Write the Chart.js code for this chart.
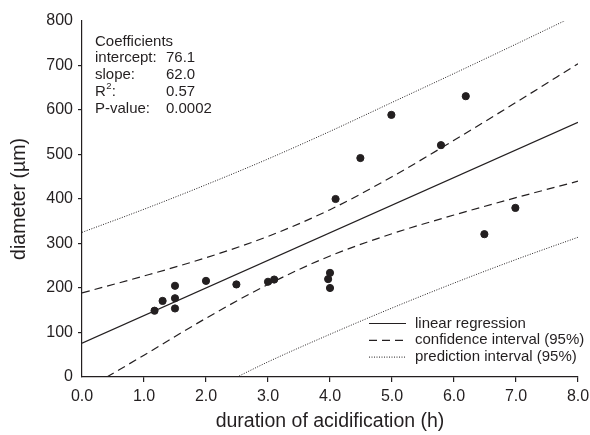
<!DOCTYPE html>
<html lang="en">
<head>
  <meta charset="UTF-8">
  <title>Diameter vs duration of acidification</title>
  <script src="https://cdn.jsdelivr.net/npm/chart.js"></script>
  <style>
    * { margin: 0; padding: 0; box-sizing: border-box; }
    body { background: #fff; }
    .wrap { position: relative; width: 590px; height: 435px; }
  </style>
</head>
<body>
  <div class="wrap"><canvas id="chart" width="590" height="435"></canvas></div>
  <script>
    // measured points
    var durationH = [1.17, 1.30, 1.50, 1.50, 1.50, 2.00, 2.49, 3.00, 3.10, 3.97, 4.00, 4.00, 4.09, 4.49, 4.99, 5.79, 6.19, 6.49, 6.99];
    var diameterUm = [149, 171, 205, 177, 154, 216, 208, 214, 219, 220, 234, 200, 400, 492, 589, 521, 631, 321, 380];

    // fitted line and bands
    var regX = [0, 8];
    var regY = [76.1, 572.1];
    var ciUpX = [0, 1, 2, 3, 4, 5, 6, 7, 8];
    var ciUpY = [189, 227, 268, 316, 376, 450, 532, 617, 704];
    var ciLoX = [0.4, 1, 2, 3, 4, 5, 6, 7, 8];
    var ciLoY = [0, 49, 132, 208, 272, 322, 364, 403, 440];
    var piUpX = [0, 1, 2, 3, 4, 5, 6, 7, 8];
    var piUpY = [325, 377, 432, 490, 552, 617, 682, 748, 815];
    var piLoX = [2.5, 3, 4, 5, 6, 7, 8];
    var piLoY = [0, 34, 96, 155, 211, 264, 314];

    var coefNames = ["intercept:", "slope:", "R", "P-value:"];
    var coefValues = ["76.1", "62.0", "0.57", "0.0002"];
    var legendLabels = ["linear regression", "confidence interval (95%)", "prediction interval (95%)"];

    var ink = "#231f20";
    var font = "'Liberation Sans', Arial, Helvetica, sans-serif";
    var dashCI = [8, 5];
    var dashPI = [1, 1.5];

    function pts(xs, ys) { return xs.map(function (x, i) { return { x: x, y: ys[i] }; }); }

    function lineSet(label, xs, ys, dash, width) {
      return {
        label: label, data: pts(xs, ys), showLine: true, borderColor: ink, borderWidth: width,
        borderDash: dash, pointRadius: 0, fill: false, cubicInterpolationMode: 'monotone'
      };
    }

    // text block + legend drawn in the plot
    var notes = {
      id: 'notes',
      afterDraw: function (chart) {
        var c = chart.ctx;
        c.save();
        c.fillStyle = ink;
        c.textBaseline = 'middle';
        c.font = "15px " + font;
        c.fillText("Coefficients", 95, 41.5);
        for (var i = 0; i < coefNames.length; i++) {
          var y = 58.3 + i * 16.7;
          c.font = "15px " + font;
          if (coefNames[i] === "R") {
            c.fillText("R", 95, y);
            var w = c.measureText("R").width;
            c.font = "9.5px " + font;
            c.fillText("2", 95 + w + 0.5, y - 5.5);
            c.font = "15px " + font;
            c.fillText(":", 95 + w + 6, y);
          } else {
            c.fillText(coefNames[i], 95, y);
          }
          c.fillText(coefValues[i], 166, y);
        }

        var dashes = [[], dashCI, dashPI];
        var widths = [1.2, 1.2, 1];
        c.font = "15px " + font;
        for (var j = 0; j < legendLabels.length; j++) {
          var ly = 323.5 + j * 16.8;
          c.beginPath();
          c.setLineDash(dashes[j]);
          c.lineWidth = widths[j];
          c.strokeStyle = ink;
          c.moveTo(369, ly);
          c.lineTo(406, ly);
          c.stroke();
          c.setLineDash([]);
          c.fillText(legendLabels[j], 415, ly);
        }
        c.restore();
      }
    };

    function edgeTick(ctx) {
      return (ctx.tick && (ctx.tick.value === 0 || ctx.tick.value === 800)) ? 'rgba(0,0,0,0)' : ink;
    }

    new Chart(document.getElementById("chart"), {
      type: 'scatter',
      data: {
        datasets: [
          {
            label: "data", data: pts(durationH, diameterUm), backgroundColor: ink, borderColor: ink,
            pointRadius: 3.6, pointHoverRadius: 3.6, showLine: false
          },
          lineSet(legendLabels[0], regX, regY, [], 1.2),
          lineSet("ci upper", ciUpX, ciUpY, dashCI, 1.2),
          lineSet("ci lower", ciLoX, ciLoY, dashCI, 1.2),
          lineSet("pi upper", piUpX, piUpY, dashPI, 1),
          lineSet("pi lower", piLoX, piLoY, dashPI, 1)
        ]
      },
      options: {
        responsive: false,
        animation: false,
        devicePixelRatio: 1,
        layout: { padding: { left: 0, right: 12, top: 21, bottom: 0 } },
        plugins: { legend: { display: false }, tooltip: { enabled: false } },
        scales: {
          x: {
            type: 'linear', min: 0, max: 8,
            ticks: {
              stepSize: 1, color: ink, padding: 5, maxRotation: 0,
              font: { family: font, size: 16 },
              callback: function (v) { return v.toFixed(1); }
            },
            grid: {
              drawOnChartArea: false, drawTicks: true, tickLength: 5, lineWidth: 1.2,
              color: function (ctx) { return ctx.index === 0 ? 'rgba(0,0,0,0)' : ink; }
            },
            border: { display: true, color: ink, width: 1.2 },
            title: {
              display: true, text: "duration of acidification (h)", color: ink,
              font: { family: font, size: 19.5 }, padding: { top: 0, bottom: 1.5 }
            },
            afterFit: function (s) { s.height = 58; s.paddingRight = 0; s.paddingLeft = 0; }
          },
          y: {
            type: 'linear', min: 0, max: 800,
            ticks: { stepSize: 100, color: ink, padding: 5, font: { family: font, size: 16 } },
            grid: { drawOnChartArea: false, drawTicks: true, tickLength: 4, lineWidth: 1.2, color: edgeTick },
            border: { display: true, color: ink, width: 1.2 },
            title: {
              display: true, text: "diameter (\u00b5m)", color: ink,
              font: { family: font, size: 19.5 }, padding: { top: 8, bottom: 0 }
            },
            afterFit: function (s) { s.width = 82; s.paddingTop = 0; s.paddingBottom = 0; }
          }
        }
      },
      plugins: [notes]
    });
  </script>
</body>
</html>
